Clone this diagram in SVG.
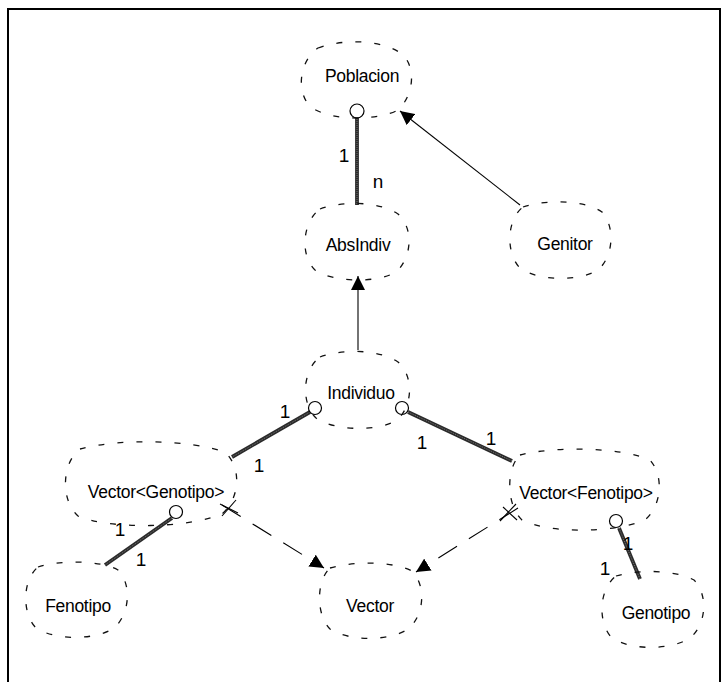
<svg xmlns="http://www.w3.org/2000/svg" width="728" height="682" viewBox="0 0 728 682">
  <style>
    .cloud { fill: none; stroke: #111; stroke-width: 1.3; stroke-dasharray: 6 13; }
    .name { font-family: "Liberation Sans", Arial, sans-serif; font-size: 17.5px; letter-spacing: -0.3px; fill: #000; text-anchor: middle; }
    .mult { font-family: "Liberation Sans", Arial, sans-serif; font-size: 19px; fill: #000; text-anchor: middle; }
    .has { stroke: #2a2a2a; stroke-width: 3.8; fill: none; }
    .has-core { stroke: #777; stroke-width: 1; fill: none; stroke-dasharray: 1 1; }
    .inh { stroke: #000; stroke-width: 1.1; fill: none; }
    .uses { stroke: #000; stroke-width: 1.1; fill: none; stroke-dasharray: 22 14; }
    .ring { fill: #fff; stroke: #000; stroke-width: 1.2; }
  </style>
  <defs>
    <marker id="tri" viewBox="0 0 10 10" refX="10" refY="5" markerWidth="14" markerHeight="14" markerUnits="userSpaceOnUse" orient="auto">
      <path d="M0,0 L10,5 L0,10 Z" fill="#000"/>
    </marker>
  </defs>

  <!-- page frame -->
  <path d="M8,682 L8,9 L720,9 L720,682" fill="none" stroke="#000" stroke-width="2"/>

  <!-- connectors -->
  <g id="connectors">
    <!-- Poblacion 1 — n AbsIndiv -->
    <line class="has" x1="357" y1="117" x2="357" y2="205"/>
    <line class="has-core" x1="357" y1="117" x2="357" y2="205"/>
    <circle class="ring" cx="357" cy="111" r="7"/>
    <text class="mult" x="344" y="162">1</text>
    <text class="mult" x="378" y="188">n</text>

    <!-- Genitor inherits Poblacion -->
    <line class="inh" x1="520" y1="205" x2="400" y2="111" marker-end="url(#tri)"/>

    <!-- Individuo inherits AbsIndiv -->
    <line class="inh" x1="358" y1="350" x2="358" y2="276" marker-end="url(#tri)"/>

    <!-- Individuo — Vector<Genotipo> -->
    <line class="has" x1="310" y1="412" x2="232" y2="457"/>
    <line class="has-core" x1="310" y1="412" x2="232" y2="457"/>
    <circle class="ring" cx="315" cy="408" r="6.5"/>
    <text class="mult" x="285" y="418">1</text>
    <text class="mult" x="259" y="472">1</text>

    <!-- Individuo — Vector<Fenotipo> -->
    <line class="has" x1="408" y1="412" x2="512" y2="461"/>
    <line class="has-core" x1="408" y1="412" x2="512" y2="461"/>
    <circle class="ring" cx="402" cy="408" r="6.5"/>
    <text class="mult" x="422" y="449">1</text>
    <text class="mult" x="491" y="445">1</text>

    <!-- Vector<Genotipo> — Fenotipo -->
    <line class="has" x1="172" y1="518" x2="105" y2="565"/>
    <line class="has-core" x1="172" y1="518" x2="105" y2="565"/>
    <circle class="ring" cx="176" cy="512" r="6.5"/>
    <text class="mult" x="120" y="536">1</text>
    <text class="mult" x="141" y="566">1</text>

    <!-- Vector<Fenotipo> — Genotipo -->
    <line class="has" x1="619" y1="528" x2="640" y2="579"/>
    <line class="has-core" x1="619" y1="528" x2="640" y2="579"/>
    <circle class="ring" cx="616" cy="521" r="6.5"/>
    <text class="mult" x="605" y="575">1</text>
    <text class="mult" x="628" y="550">1</text>

    <!-- Vector<Genotipo> uses Vector -->
    <line class="uses" x1="222" y1="505" x2="324" y2="568" marker-end="url(#tri)"/>
    <line class="inh" x1="222" y1="516" x2="236" y2="500"/>
    <line class="inh" x1="220" y1="504" x2="238" y2="513"/>

    <!-- Vector<Fenotipo> uses Vector -->
    <line class="uses" x1="518" y1="508" x2="416" y2="572" marker-end="url(#tri)"/>
    <line class="inh" x1="500" y1="521" x2="516" y2="504"/>
    <line class="inh" x1="503" y1="507" x2="517" y2="520"/>
  </g>

  <!-- classes -->
  <g id="poblacion">
    <path class="cloud" d="M318,48 C345,38 385,40 403,55 C416,68 414,95 398,110 C380,120 335,122 312,108 C296,95 298,62 318,48 Z"/>
    <text class="name" x="362" y="82">Poblacion</text>
  </g>
  <g id="absindiv">
    <path class="cloud" d="M320,209 C345,200 380,202 398,214 C414,228 412,258 396,272 C378,283 334,283 315,270 C300,256 302,222 320,209 Z"/>
    <text class="name" x="358" y="251">AbsIndiv</text>
  </g>
  <g id="genitor">
    <path class="cloud" d="M523,207 C548,199 585,200 602,212 C615,226 614,256 598,270 C580,281 540,282 520,268 C506,254 506,220 523,207 Z"/>
    <text class="name" x="565" y="250">Genitor</text>
  </g>
  <g id="individuo">
    <path class="cloud" d="M320,357 C345,348 380,350 398,362 C414,376 413,406 397,420 C380,431 336,432 316,418 C301,404 302,370 320,357 Z"/>
    <text class="name" x="361" y="399">Individuo</text>
  </g>
  <g id="vector-genotipo">
    <path class="cloud" d="M80,449 C120,438 190,440 225,452 C242,468 240,498 222,514 C190,528 110,530 78,516 C60,500 62,462 80,449 Z"/>
    <text class="name" x="156" y="498">Vector&lt;Genotipo&gt;</text>
  </g>
  <g id="vector-fenotipo">
    <path class="cloud" d="M520,455 C555,446 620,447 650,460 C664,476 662,505 645,520 C615,533 550,534 522,520 C506,505 506,468 520,455 Z"/>
    <text class="name" x="586" y="499">Vector&lt;Fenotipo&gt;</text>
  </g>
  <g id="fenotipo">
    <path class="cloud" d="M38,567 C60,560 100,560 118,570 C132,584 130,614 114,628 C96,640 56,641 36,628 C22,614 22,580 38,567 Z"/>
    <text class="name" x="78" y="612">Fenotipo</text>
  </g>
  <g id="vector">
    <path class="cloud" d="M330,568 C355,561 392,561 412,571 C426,585 425,615 408,629 C390,641 350,642 330,629 C316,615 316,581 330,568 Z"/>
    <text class="name" x="370" y="612">Vector</text>
  </g>
  <g id="genotipo">
    <path class="cloud" d="M616,576 C640,569 675,570 694,580 C708,594 707,624 690,638 C672,650 632,651 612,638 C598,624 598,590 616,576 Z"/>
    <text class="name" x="656" y="619">Genotipo</text>
  </g>
</svg>
